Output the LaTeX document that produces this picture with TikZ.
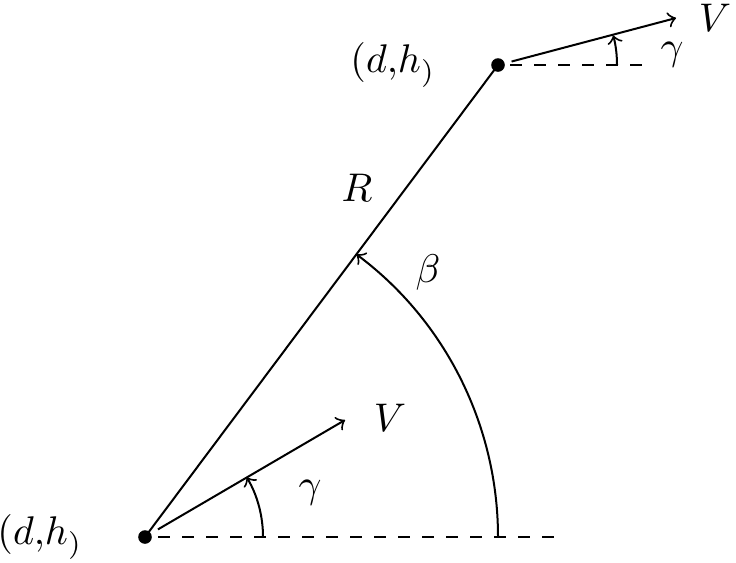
\documentclass[tikz,border=0pt]{standalone}
\usetikzlibrary{calc}
\begin{document}
\begin{tikzpicture}[x=0.25pt,y=0.25pt,line width=0.5pt,
  dotnode/.style={circle,fill=black,inner sep=0pt,minimum size=3.4pt},
  lbl/.style={inner sep=0pt}]
\useasboundingbox (0,0) rectangle (736,562);
\node[dotnode] (O) at (145,25) {};
\node[dotnode] (P) at (498,497) {};
% R line
\draw (O.center) -- (P.center);
% dashed baselines
\coordinate (B1) at (158,25);
\coordinate (B2) at (557,25);
\draw[dashed] (B1) -- (B2);
\coordinate (T1) at (510,497);
\coordinate (T2) at (642,497);
\draw[dashed] (T1) -- (T2);
% velocity vectors
\coordinate (V1s) at ($(O.center)+(30.5:15)$);
\coordinate (V1e) at (345,142);
\draw[->] (V1s) -- (V1e);
\coordinate (V2s) at ($(P.center)+(14.4:14)$);
\coordinate (V2e) at (676,544);
\draw[->] (V2s) -- (V2e);
% angle arcs
\draw[->] ($(O.center)+(118,0)$) arc[start angle=0,end angle=30.5,radius=118];
\draw[->] ($(O.center)+(353,0)$) arc[start angle=0,end angle=53.2,radius=353];
\draw[->] ($(P.center)+(119,0)$) arc[start angle=0,end angle=14.4,radius=119];
% labels
\node[lbl] (L1) at (40,25) {$(d{,}h_)$};
\node[lbl] (L2) at (393,497) {$(d{,}h_)$};
\node[lbl] (LR) at (357,374) {$R$};
\node[lbl] (Lb) at (428,290) {$\beta$};
\node[lbl] (Lg1) at (310,69) {$\gamma$};
\node[lbl] (LV1) at (390,144) {$V$};
\node[lbl] (Lg2) at (672,507) {$\gamma$};
\node[lbl] (LV2) at (715,544) {$V$};
\end{tikzpicture}
\end{document}
